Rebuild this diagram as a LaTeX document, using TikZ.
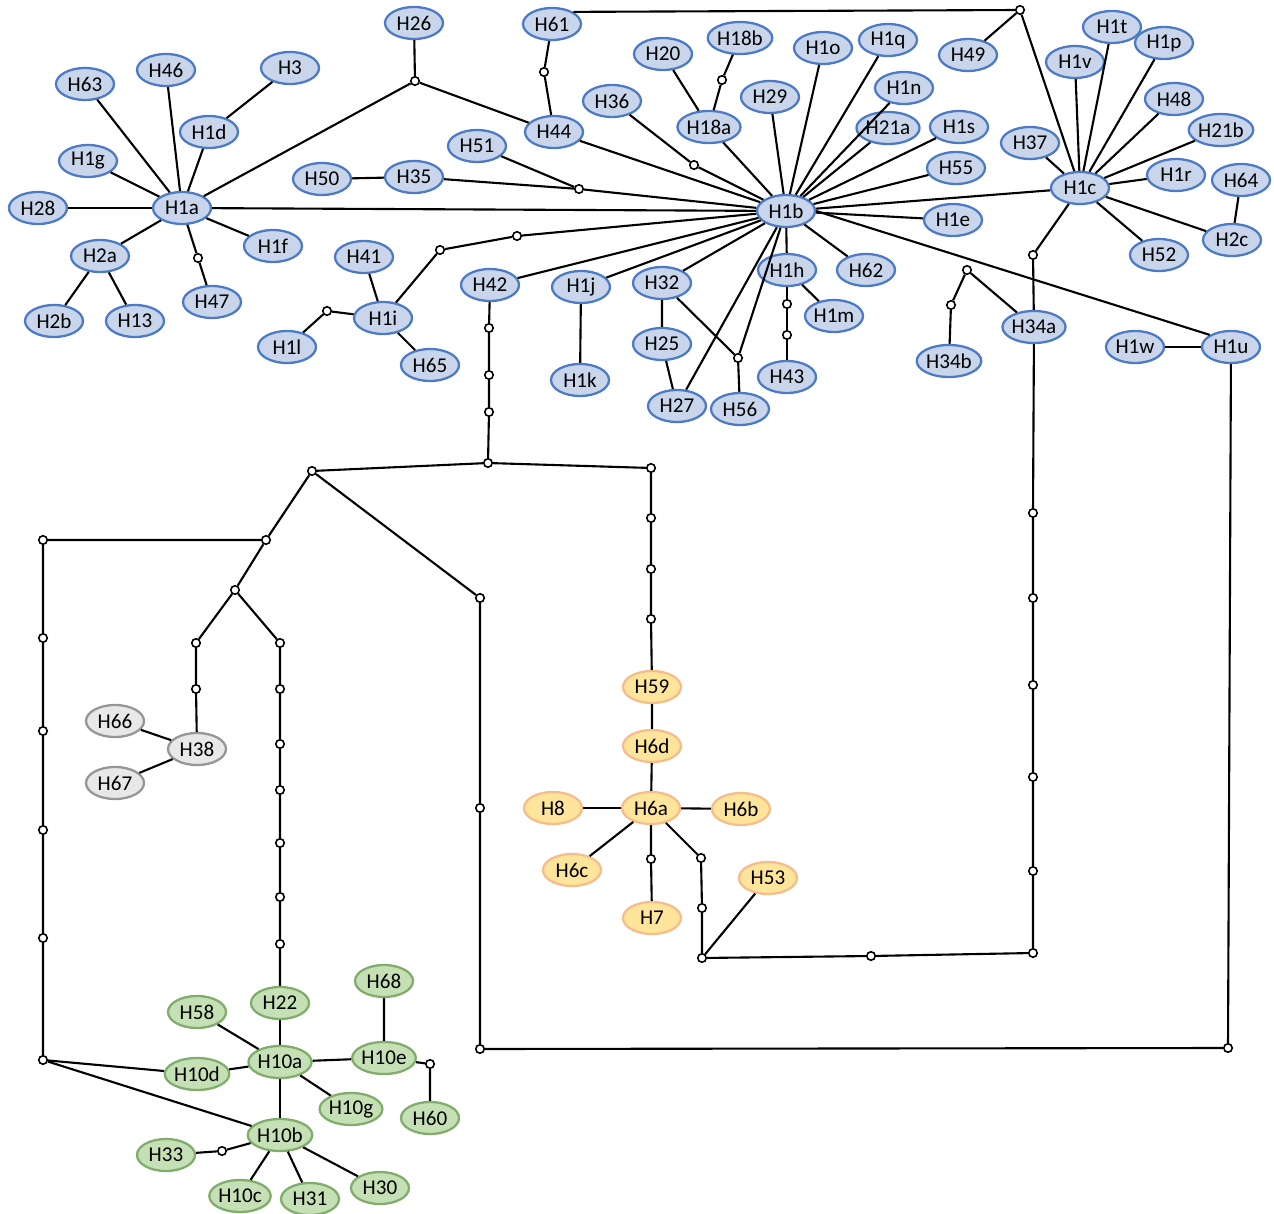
\documentclass[tikz,border=0pt]{standalone}
\usepackage{fontspec}
\setmainfont{Carlito}
\usepackage{tikz}
\usetikzlibrary{shapes.geometric}
\usepackage{xcolor}
\definecolor{hblue}{RGB}{200,213,234}
\definecolor{hblueD}{RGB}{76,122,196}
\definecolor{hgreen}{RGB}{198,224,181}
\definecolor{hgreenD}{RGB}{128,172,108}
\definecolor{horange}{RGB}{255,229,156}
\definecolor{horangeD}{RGB}{246,188,138}
\definecolor{hgrey}{RGB}{232,232,232}
\definecolor{hgreyD}{RGB}{150,150,150}

\begin{document}
\begin{tikzpicture}[
    hbox/.style={ellipse, line width=1.3pt, minimum width=1.16cm,
                 minimum height=0.64cm, inner sep=0pt,
                 font=\fontsize{12}{14}\selectfont},
    bbox/.style={hbox, draw=hblueD, fill=hblue},
    gbox/.style={hbox, draw=hgreenD, fill=hgreen},
    obox/.style={hbox, draw=horangeD, fill=horange},
    sbox/.style={hbox, draw=hgreyD, fill=hgrey},
    mv/.style={circle, draw, line width=0.9pt, fill=white,
               minimum size=0.17cm, inner sep=0pt},
    lnk/.style={line width=1.2pt, black},
]
  \useasboundingbox (0,0) rectangle (25.48,-24.28);

  % H1a cluster
  \node[bbox] (H26)  at (8.28, -0.46) {H26};
  \node[bbox] (H63)  at (1.70, -1.68) {H63};
  \node[bbox] (H46)  at (3.32, -1.40) {H46};
  \node[bbox] (H3)   at (5.80, -1.36) {H3};
  \node[bbox] (H1d)  at (4.18, -2.64) {H1d};
  \node[bbox] (H1g)  at (1.76, -3.22) {H1g};
  \node[bbox] (H28)  at (0.76, -4.16) {H28};
  \node[bbox] (H1a)  at (3.64, -4.16) {H1a};
  \node[bbox] (H2a)  at (2.00, -5.12) {H2a};
  \node[bbox] (H2b)  at (1.08, -6.42) {H2b};
  \node[bbox] (H13)  at (2.70, -6.42) {H13};
  \node[bbox] (H1f)  at (5.46, -4.92) {H1f};
  \node[bbox] (H47)  at (4.24, -6.04) {H47};
  \node[bbox] (H41)  at (7.28, -5.14) {H41};
  \node[bbox] (H1i)  at (7.66, -6.36) {H1i};
  \node[bbox] (H1l)  at (5.74, -6.94) {H1l};
  \node[bbox] (H65)  at (8.60, -7.30) {H65};
  \node[bbox] (H50)  at (6.44, -3.58) {H50};
  \node[bbox] (H35)  at (8.28, -3.54) {H35};
  \node[bbox] (H51)  at (9.54, -2.92) {H51};

  % H1b cluster
  \node[bbox] (H61)  at (11.04, -0.48) {H61};
  \node[bbox] (H44)  at (11.08, -2.64) {H44};
  \node[bbox] (H36)  at (12.24, -2.02) {H36};
  \node[bbox] (H20)  at (13.26, -1.08) {H20};
  \node[bbox] (H18b) at (14.80, -0.76) {H18b};
  \node[bbox] (H18a) at (14.18, -2.54) {H18a};
  \node[bbox] (H29)  at (15.40, -1.94) {H29};
  \node[bbox] (H1o)  at (16.46, -0.96) {H1o};
  \node[bbox] (H1q)  at (17.76, -0.80) {H1q};
  \node[bbox] (H1n)  at (18.08, -1.76) {H1n};
  \node[bbox] (H21a) at (17.76, -2.56) {H21a};
  \node[bbox] (H1s)  at (19.18, -2.54) {H1s};
  \node[bbox] (H55)  at (19.12, -3.36) {H55};
  \node[bbox] (H1e)  at (19.06, -4.40) {H1e};
  \node[bbox] (H62)  at (17.32, -5.40) {H62};
  \node[bbox] (H1b)  at (15.72, -4.22) {H1b};
  \node[bbox] (H1h)  at (15.74, -5.40) {H1h};
  \node[bbox] (H1m)  at (16.68, -6.32) {H1m};
  \node[bbox] (H43)  at (15.74, -7.54) {H43};
  \node[bbox] (H42)  at (9.80, -5.70) {H42};
  \node[bbox] (H1j)  at (11.62, -5.74) {H1j};
  \node[bbox] (H1k)  at (11.60, -7.60) {H1k};
  \node[bbox] (H32)  at (13.24, -5.66) {H32};
  \node[bbox] (H25)  at (13.24, -6.88) {H25};
  \node[bbox] (H27)  at (13.54, -8.12) {H27};
  \node[bbox] (H56)  at (14.80, -8.18) {H56};

  % H1c cluster
  \node[bbox] (H49)  at (19.36, -1.10) {H49};
  \node[bbox] (H1t)  at (22.24, -0.54) {H1t};
  \node[bbox] (H1v)  at (21.50, -1.24) {H1v};
  \node[bbox] (H1p)  at (23.28, -0.86) {H1p};
  \node[bbox] (H48)  at (23.48, -1.98) {H48};
  \node[bbox] (H37)  at (20.60, -2.86) {H37};
  \node[bbox] (H21b) at (24.42, -2.60) {H21b};
  \node[bbox] (H1c)  at (21.60, -3.76) {H1c};
  \node[bbox] (H1r)  at (23.52, -3.50) {H1r};
  \node[bbox] (H64)  at (24.82, -3.60) {H64};
  \node[bbox] (H2c)  at (24.64, -4.80) {H2c};
  \node[bbox] (H52)  at (23.18, -5.10) {H52};
  \node[bbox] (H34a) at (20.68, -6.54) {H34a};
  \node[bbox] (H34b) at (18.98, -7.22) {H34b};
  \node[bbox] (H1w)  at (22.70, -6.94) {H1w};
  \node[bbox] (H1u)  at (24.62, -6.94) {H1u};

  % grey group
  \node[sbox] (H66)  at (2.30, -14.42) {H66};
  \node[sbox] (H38)  at (3.94, -14.98) {H38};
  \node[sbox] (H67)  at (2.30, -15.66) {H67};

  % orange group
  \node[obox] (H59)  at (13.04, -13.74) {H59};
  \node[obox] (H6d)  at (13.04, -14.92) {H6d};
  \node[obox] (H8)   at (11.06, -16.16) {H8};
  \node[obox] (H6a)  at (13.02, -16.16) {H6a};
  \node[obox] (H6b)  at (14.82, -16.18) {H6b};
  \node[obox] (H6c)  at (11.44, -17.40) {H6c};
  \node[obox] (H7)   at (13.04, -18.36) {H7};
  \node[obox] (H53)  at (15.36, -17.56) {H53};

  % green group
  \node[gbox] (H68)  at (7.68, -19.62) {H68};
  \node[gbox] (H58)  at (3.94, -20.24) {H58};
  \node[gbox] (H22)  at (5.60, -20.06) {H22};
  \node[gbox] (H10a) at (5.60, -21.24) {H10a};
  \node[gbox] (H10e) at (7.68, -21.16) {H10e};
  \node[gbox] (H10d) at (3.94, -21.48) {H10d};
  \node[gbox] (H10g) at (7.02, -22.18) {H10g};
  \node[gbox] (H60)  at (8.60, -22.36) {H60};
  \node[gbox] (H10b) at (5.60, -22.70) {H10b};
  \node[gbox] (H33)  at (3.32, -23.10) {H33};
  \node[gbox] (H10c) at (4.80, -23.92) {H10c};
  \node[gbox] (H31)  at (6.20, -23.98) {H31};
  \node[gbox] (H30)  at (7.60, -23.76) {H30};

  % median vectors, upper part
  \node[mv] (v1)  at (8.30, -1.62) {};
  \node[mv] (v2)  at (3.96, -5.16) {};
  \node[mv] (v3)  at (6.54, -6.22) {};
  \node[mv] (v4)  at (8.80, -5.00) {};
  \node[mv] (v5)  at (10.34, -4.72) {};
  \node[mv] (v6)  at (10.88, -1.44) {};
  \node[mv] (v7)  at (11.58, -3.78) {};
  \node[mv] (v8)  at (13.88, -3.30) {};
  \node[mv] (v9)  at (14.44, -1.60) {};
  \node[mv] (v10) at (14.76, -7.16) {};
  \node[mv] (v11) at (15.74, -6.08) {};
  \node[mv] (v12) at (15.74, -6.70) {};
  \node[mv] (v13) at (20.40, -0.20) {};
  \node[mv] (v14) at (20.66, -5.10) {};
  \node[mv] (v15) at (19.34, -5.40) {};
  \node[mv] (v16) at (19.02, -6.10) {};

  % median vectors, lower part
  \node[mv] (v17) at (9.78, -6.56) {};
  \node[mv] (v18) at (9.78, -7.50) {};
  \node[mv] (v19) at (9.78, -8.24) {};
  \node[mv] (v20) at (9.76, -9.26) {};
  \node[mv] (v21) at (13.02, -9.36) {};
  \node[mv] (v22) at (13.02, -10.36) {};
  \node[mv] (v23) at (13.02, -11.38) {};
  \node[mv] (v24) at (13.02, -12.38) {};
  \node[mv] (v25) at (6.24, -9.42) {};
  \node[mv] (v26) at (5.32, -10.80) {};
  \node[mv] (v27) at (0.86, -10.80) {};
  \node[mv] (v28) at (0.86, -12.76) {};
  \node[mv] (v29) at (0.86, -14.62) {};
  \node[mv] (v30) at (0.86, -16.60) {};
  \node[mv] (v31) at (0.86, -18.76) {};
  \node[mv] (v32) at (0.86, -21.20) {};
  \node[mv] (v33) at (4.70, -11.80) {};
  \node[mv] (v34) at (3.92, -12.86) {};
  \node[mv] (v35) at (3.92, -13.78) {};
  \node[mv] (v36) at (5.60, -12.86) {};
  \node[mv] (v37) at (5.60, -13.78) {};
  \node[mv] (v38) at (5.60, -14.88) {};
  \node[mv] (v39) at (5.60, -15.80) {};
  \node[mv] (v40) at (5.60, -16.86) {};
  \node[mv] (v41) at (5.60, -17.94) {};
  \node[mv] (v42) at (5.60, -18.88) {};
  \node[mv] (v43) at (9.60, -11.96) {};
  \node[mv] (v44) at (9.60, -16.16) {};
  \node[mv] (v45) at (9.60, -20.98) {};
  \node[mv] (v46) at (24.56, -20.96) {};
  \node[mv] (v47) at (13.02, -17.18) {};
  \node[mv] (v48) at (14.02, -17.16) {};
  \node[mv] (v49) at (14.04, -18.16) {};
  \node[mv] (v50) at (14.04, -19.16) {};
  \node[mv] (v51) at (17.42, -19.12) {};
  \node[mv] (v52) at (20.66, -19.06) {};
  \node[mv] (v53) at (20.66, -17.42) {};
  \node[mv] (v54) at (20.66, -15.54) {};
  \node[mv] (v55) at (20.66, -13.70) {};
  \node[mv] (v56) at (20.66, -11.96) {};
  \node[mv] (v57) at (20.66, -10.26) {};
  \node[mv] (v58) at (8.60, -21.28) {};
  \node[mv] (v59) at (4.44, -23.02) {};

  % links around H1a
  \draw[lnk] (H1a) -- (H63);
  \draw[lnk] (H1a) -- (H46);
  \draw[lnk] (H1a) -- (H1d) -- (H3);
  \draw[lnk] (H1a) -- (H1g);
  \draw[lnk] (H1a) -- (H28);
  \draw[lnk] (H1a) -- (H2a) -- (H2b);
  \draw[lnk] (H2a) -- (H13);
  \draw[lnk] (H1a) -- (H1f);
  \draw[lnk] (H1a) -- (v2) -- (H47);
  \draw[lnk] (H1a) -- (H1b);
  \draw[lnk] (H1a) -- (v1) -- (H44);
  \draw[lnk] (v1) -- (H26);
  \draw[lnk] (H50) -- (H35) -- (v7) -- (H1b);
  \draw[lnk] (H51) -- (v7);
  \draw[lnk] (H41) -- (H1i) -- (H65);
  \draw[lnk] (H1l) -- (v3) -- (H1i);
  \draw[lnk] (H1i) -- (v4) -- (v5) -- (H1b);

  % links around H1b
  \draw[lnk] (H61) -- (v6) -- (H44) -- (H1b);
  \draw[lnk] (H61.north east) -- (v13) -- (H49);
  \draw[lnk] (v13) -- (H1c);
  \draw[lnk] (H36) -- (v8) -- (H1b);
  \draw[lnk] (H20) -- (H18a) -- (H1b);
  \draw[lnk] (H18b) -- (v9) -- (H18a);
  \draw[lnk] (H29) -- (H1b);
  \draw[lnk] (H1o) -- (H1b);
  \draw[lnk] (H1q) -- (H1b);
  \draw[lnk] (H1n) -- (H1b);
  \draw[lnk] (H21a) -- (H1b);
  \draw[lnk] (H1s) -- (H1b);
  \draw[lnk] (H55) -- (H1b);
  \draw[lnk] (H1c) -- (H1b);
  \draw[lnk] (H1e) -- (H1b);
  \draw[lnk] (H62) -- (H1b);
  \draw[lnk] (H1u.north west) -- (H1b.east);
  \draw[lnk] (H1w) -- (H1u);
  \draw[lnk] (H1b) -- (H1h) -- (H1m);
  \draw[lnk] (H1h) -- (v11) -- (v12) -- (H43);
  \draw[lnk] (H1b) -- (v10) -- (H56);
  \draw[lnk] (H32) -- (v10);
  \draw[lnk] (H1b) -- (H27);
  \draw[lnk] (H1b) -- (H32) -- (H25) -- (H27);
  \draw[lnk] (H1b) -- (H1j) -- (H1k);
  \draw[lnk] (H1b) -- (H42);

  % links around H1c
  \draw[lnk] (H1c) -- (H37);
  \draw[lnk] (H1c) -- (H1v);
  \draw[lnk] (H1c) -- (H1t);
  \draw[lnk] (H1c) -- (H1p);
  \draw[lnk] (H1c) -- (H48);
  \draw[lnk] (H1c) -- (H21b);
  \draw[lnk] (H1c) -- (H1r);
  \draw[lnk] (H1c) -- (H2c) -- (H64);
  \draw[lnk] (H1c) -- (H52);
  \draw[lnk] (H1c) -- (v14) -- (H34a);
  \draw[lnk] (H34a) -- (v15) -- (v16) -- (H34b);

  % long chains
  \draw[lnk] (H42) -- (v17) -- (v18) -- (v19) -- (v20);
  \draw[lnk] (v20) -- (v21) -- (v22) -- (v23) -- (v24) -- (H59) -- (H6d) -- (H6a);
  \draw[lnk] (v20) -- (v25) -- (v26) -- (v27) -- (v28) -- (v29) -- (v30) -- (v31) -- (v32);
  \draw[lnk] (v26) -- (v33) -- (v34) -- (v35) -- (H38);
  \draw[lnk] (v33) -- (v36) -- (v37) -- (v38) -- (v39) -- (v40) -- (v41) -- (v42) -- (H22);
  \draw[lnk] (v25) -- (v43) -- (v44) -- (v45) -- (v46) -- (H1u);
  \draw[lnk] (H34a) -- (v57) -- (v56) -- (v55) -- (v54) -- (v53) -- (v52) -- (v51) -- (v50);

  % grey and orange links
  \draw[lnk] (H38) -- (H66);
  \draw[lnk] (H38) -- (H67);
  \draw[lnk] (H6a) -- (H8);
  \draw[lnk] (H6a) -- (H6b);
  \draw[lnk] (H6a) -- (H6c);
  \draw[lnk] (H6a) -- (v47) -- (H7);
  \draw[lnk] (H6a) -- (v48) -- (v49) -- (v50) -- (H53);

  % green links
  \draw[lnk] (v32) -- (H10d) -- (H10a);
  \draw[lnk] (v32) -- (H10b);
  \draw[lnk] (H58) -- (H10a);
  \draw[lnk] (H22) -- (H10a);
  \draw[lnk] (H10a) -- (H10e) -- (H68);
  \draw[lnk] (H10e) -- (v58) -- (H60);
  \draw[lnk] (H10a) -- (H10g);
  \draw[lnk] (H10a) -- (H10b);
  \draw[lnk] (H10b) -- (v59) -- (H33);
  \draw[lnk] (H10b) -- (H10c);
  \draw[lnk] (H10b) -- (H31);
  \draw[lnk] (H10b) -- (H30);

\end{tikzpicture}
\end{document}
